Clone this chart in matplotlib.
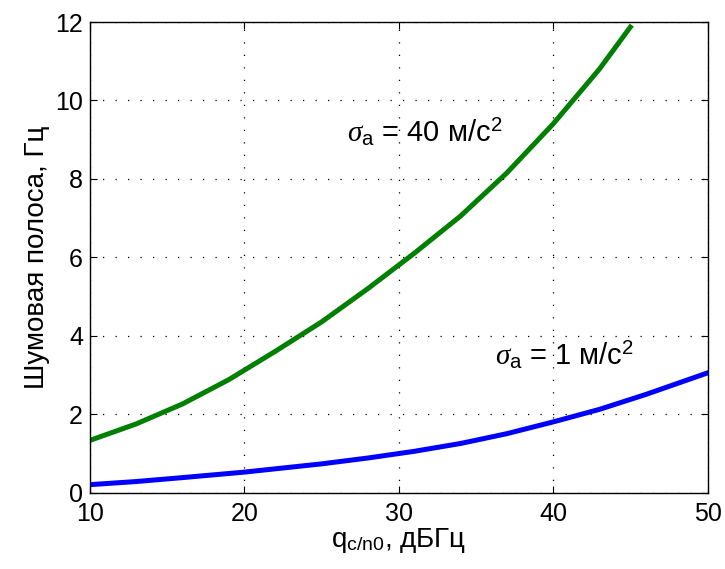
import matplotlib.pyplot as plt

plt.rcParams['font.family'] = ['Liberation Sans', 'DejaVu Sans']
plt.rcParams['mathtext.fontset'] = 'custom'
plt.rcParams['mathtext.rm'] = 'Liberation Sans'
plt.rcParams['mathtext.it'] = 'Liberation Serif:italic'
plt.rcParams['mathtext.sf'] = 'Liberation Sans'

# curve for sigma_a = 40 m/s^2
q_40 = [10, 13, 16, 19, 22, 25, 28, 31, 34, 37, 40, 43, 45]
band_40 = [1.33, 1.75, 2.26, 2.88, 3.6, 4.35, 5.2, 6.1, 7.05, 8.15, 9.4, 10.8, 11.87]

# curve for sigma_a = 1 m/s^2
q_1 = [10, 13, 16, 20, 25, 28, 31, 34, 37, 40, 43, 46, 50]
band_1 = [0.2, 0.28, 0.38, 0.52, 0.73, 0.88, 1.05, 1.25, 1.5, 1.8, 2.12, 2.5, 3.05]

fig = plt.figure(figsize=(7.25, 5.69), dpi=100)
ax = fig.add_axes([90/725, 76.5/569, 617.5/725, 470.5/569])

ax.plot(q_40, band_40, color='#007f00', lw=3.6)
ax.plot(q_1, band_1, color='#0000ff', lw=3.6)

ax.set_xlim(10, 50)
ax.set_ylim(0, 12)
ax.set_xticks([10, 20, 30, 40, 50])
ax.set_yticks([0, 2, 4, 6, 8, 10, 12])
ax.grid(True, color='black', linestyle=(0, (1, 9)), lw=0.9)
ax.tick_params(direction='in', labelsize=18, length=5, top=True, right=True)
ax.tick_params(axis='x', pad=7)
ax.tick_params(axis='y', pad=5)
for s in ax.spines.values():
    s.set_linewidth(1.0)

ax.set_xlabel(r'q$_{\rm c/n0}$, дБГц', fontsize=20, labelpad=0)
ax.set_ylabel('Шумовая полоса, Гц', fontsize=20, labelpad=4)

ax.text(26.65, 8.94, r'$\sigma_{\rm a}$ = 40 м/с$^2$', fontsize=21, va='baseline')
ax.text(36.25, 3.25, r'$\sigma_{\rm a}$ = 1 м/с$^2$', fontsize=21, va='baseline')

plt.savefig('out.png', dpi=100)
